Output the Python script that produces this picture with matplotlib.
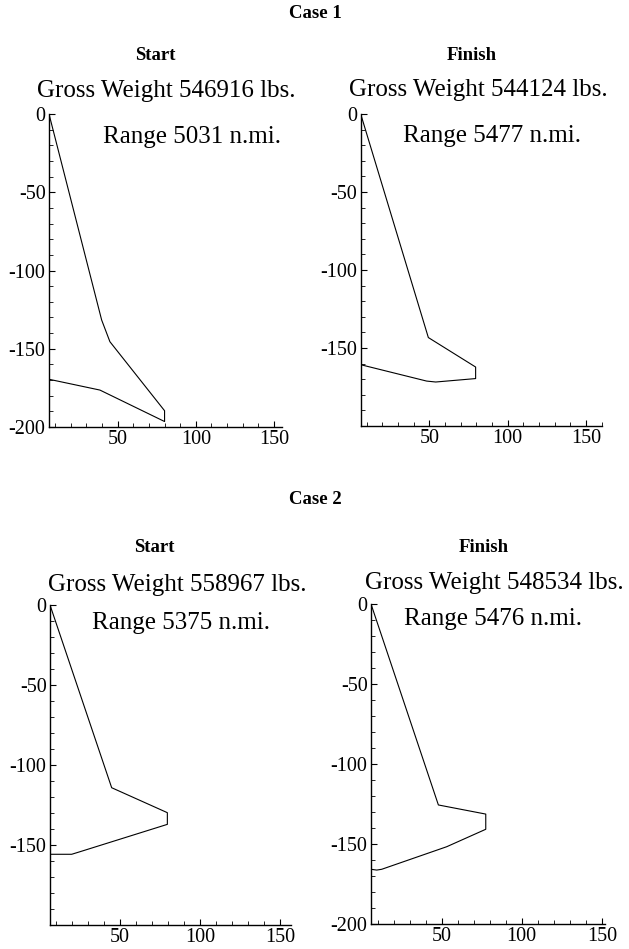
import matplotlib
matplotlib.use('Agg')
import matplotlib.pyplot as plt
from matplotlib.ticker import MultipleLocator

plt.rcParams['font.family'] = ['Liberation Serif', 'DejaVu Serif']
plt.rcParams['axes.unicode_minus'] = False

W, H = 629, 949

# wing outlines (span, chord)
case1_start_x = [6, 39.7, 45, 80, 80, 38.6, 6]
case1_start_y = [0, -131.6, -145.5, -189.6, -196.5, -176.4, -169.5]
case1_finish_x = [6.2, 49.4, 79.6, 79.6, 54.1, 48.3, 6.2]
case1_finish_y = [0, -143.3, -162.2, -169.6, -171.8, -171.2, -160.7]
case2_start_x = [6.25, 44.8, 79.6, 79.6, 25, 19.8, 6.25]
case2_start_y = [0, -114.2, -129.8, -137.1, -154.2, -155.8, -155.8]
case2_finish_x = [5.8, 47.9, 77.5, 77.5, 53.1, 12.5, 9.4, 5.8]
case2_finish_y = [0, -125.6, -131.3, -140.8, -151.7, -165.8, -166.3, -165.8]

gross_weights = [546916, 544124, 558967, 548534]
ranges = [5031, 5477, 5375, 5476]
x_ticks = [50, 100, 150]
y_ticks_full = [0, -50, -100, -150, -200]
y_ticks_short = [0, -50, -100, -150]


def fx(px):
    return px / W


def fy(py):
    return 1 - py / H


fig = plt.figure(figsize=(W / 100, H / 100), dpi=100)

# panel layout: (left px, top px, right px, bottom px, xmin, xmax)
panels = [
    (case1_start_x, case1_start_y, (49, 114, 281.7, 427, 6, 155), y_ticks_full),
    (case1_finish_x, case1_finish_y, (360.7, 114, 602.3, 426, 6.2, 160.5), y_ticks_short),
    (case2_start_x, case2_start_y, (50, 605, 290.7, 925, 6.25, 156.7), y_ticks_short),
    (case2_finish_x, case2_finish_y, (371, 604, 605, 924, 5.8, 152), y_ticks_full),
]

for xs, ys, box, yt in panels:
    l, t, r, b, x0, x1 = box
    ax = fig.add_axes([fx(l), fy(b), fx(r) - fx(l), fy(t) - fy(b)])
    ax.plot(xs, ys, color='black', lw=0.8)
    ax.set_xlim(x0, x1)
    ax.set_ylim(-200, 0)
    for s in ['top', 'right']:
        ax.spines[s].set_visible(False)
    for s in ['left', 'bottom']:
        ax.spines[s].set_linewidth(1.0)
    ax.set_xticks(x_ticks)
    ax.set_xticklabels([str(v) for v in x_ticks])
    ax.set_yticks(yt)
    ax.set_yticklabels([str(v) for v in yt])
    ax.xaxis.set_minor_locator(MultipleLocator(10))
    ax.yaxis.set_minor_locator(MultipleLocator(10))
    ax.tick_params(which='major', direction='in', length=4.2, width=0.8,
                   labelsize=14.5, pad=2.5)
    ax.tick_params(which='minor', direction='in', length=2.9, width=0.6)
    ax.patch.set_alpha(0)

# titles
fig.text(fx(315), fy(14), 'Case 1', ha='center', va='center',
         fontsize=13.5, fontweight='bold')
fig.text(fx(315), fy(499), 'Case 2', ha='center', va='center',
         fontsize=13.5, fontweight='bold')

headers = [('Start', 155, 56), ('Finish', 472, 56),
           ('Start', 154.3, 547.3), ('Finish', 483.3, 547.3)]
for txt, x, y in headers:
    fig.text(fx(x), fy(y), txt, ha='center', va='center',
             fontsize=13.5, fontweight='bold')

gw_pos = [(166.3, 90.7), (478.3, 90), (177.5, 585), (494.2, 583.3)]
rng_pos = [(191.8, 137), (492, 136), (180.5, 622.7), (492.5, 619.3)]
for gw, rg, (gx, gy), (rx, ry) in zip(gross_weights, ranges, gw_pos, rng_pos):
    fig.text(fx(gx), fy(gy), f'Gross Weight {gw} lbs.', ha='center',
             va='center', fontsize=18)
    fig.text(fx(rx), fy(ry), f'Range {rg} n.mi.', ha='center',
             va='center', fontsize=18)

fig.savefig('out.png', dpi=100)
